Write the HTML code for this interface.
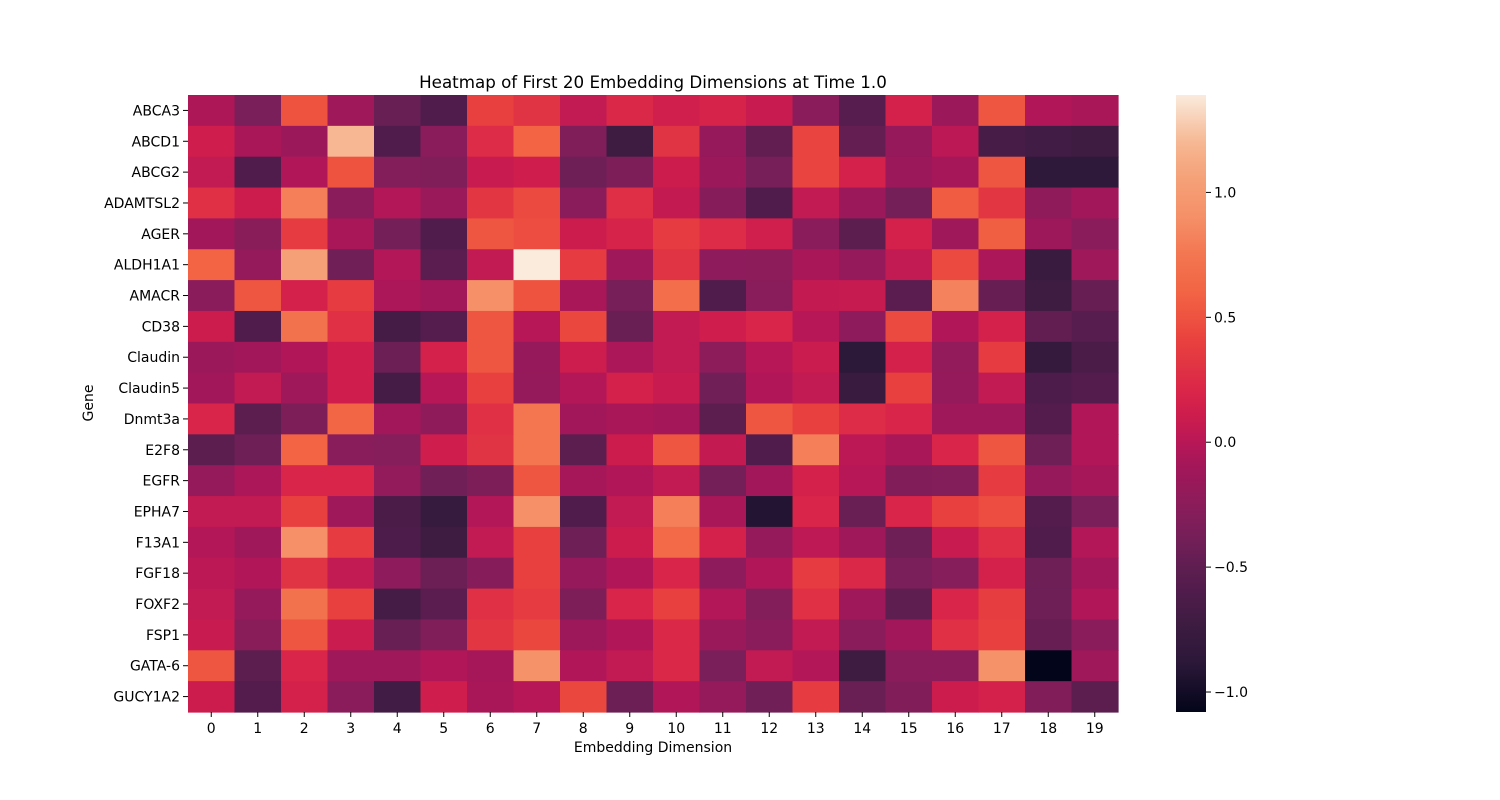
<!DOCTYPE html>
<html><head><meta charset="utf-8"><style>
html,body{margin:0;padding:0;background:#fff;}
svg{display:block;font-family:"DejaVu Sans","Liberation Sans",sans-serif;}
</style></head><body>
<svg id="chart" width="1500" height="800" viewBox="0 0 1500 800" xmlns="http://www.w3.org/2000/svg">
<rect width="1500" height="800" fill="#fff"/>
<text x="653" y="88" text-anchor="middle" font-size="16.7" fill="#000">Heatmap of First 20 Embedding Dimensions at Time 1.0</text>
<g id="cells"></g>
<g id="yaxis"></g>
<g id="xaxis"></g>
<text x="653" y="752" text-anchor="middle" font-size="14" fill="#000">Embedding Dimension</text>
<text x="93" y="403" text-anchor="middle" font-size="14" fill="#000" transform="rotate(-90 93 403)">Gene</text>
<defs><linearGradient id="cbgrad" x1="0" y1="1" x2="0" y2="0"></linearGradient></defs>
<rect x="1176" y="95" width="30" height="617" fill="url(#cbgrad)"/>
<g id="cbaxis"></g>
</svg>
<script>
const genes = ["ABCA3","ABCD1","ABCG2","ADAMTSL2","AGER","ALDH1A1","AMACR","CD38","Claudin","Claudin5","Dnmt3a","E2F8","EGFR","EPHA7","F13A1","FGF18","FOXF2","FSP1","GATA-6","GUCY1A2"];
const dims = ["0","1","2","3","4","5","6","7","8","9","10","11","12","13","14","15","16","17","18","19"];
const values = [
[-0.05,-0.35,0.5,-0.12,-0.45,-0.6,0.4,0.3,0.05,0.22,0.13,0.18,0.08,-0.25,-0.55,0.15,-0.15,0.52,-0.03,-0.07],
[0.12,-0.07,-0.15,1.2,-0.6,-0.25,0.25,0.6,-0.32,-0.72,0.3,-0.18,-0.48,0.42,-0.47,-0.18,0.02,-0.66,-0.7,-0.72],
[0.05,-0.6,-0.03,0.5,-0.3,-0.32,0.08,0.12,-0.42,-0.33,0.1,-0.15,-0.37,0.42,0.15,-0.15,-0.08,0.52,-0.85,-0.85],
[0.28,0.1,0.8,-0.25,-0.02,-0.16,0.32,0.45,-0.25,0.27,0.06,-0.28,-0.6,0.05,-0.15,-0.38,0.55,0.32,-0.22,-0.1],
[-0.1,-0.27,0.36,-0.07,-0.38,-0.6,0.52,0.47,0.1,0.18,0.37,0.25,0.13,-0.25,-0.52,0.15,-0.13,0.57,-0.14,-0.25],
[0.6,-0.19,1.05,-0.4,-0.02,-0.53,0.05,1.39,0.36,-0.12,0.3,-0.23,-0.24,-0.07,-0.19,0.05,0.45,-0.06,-0.77,-0.12],
[-0.25,0.52,0.15,0.37,-0.06,-0.1,0.9,0.5,-0.07,-0.37,0.68,-0.6,-0.26,0.06,0.07,-0.53,0.82,-0.46,-0.72,-0.46],
[0.1,-0.6,0.72,0.28,-0.67,-0.57,0.52,0.0,0.44,-0.44,0.05,0.12,0.2,0.0,-0.23,0.45,-0.03,0.16,-0.48,-0.55],
[-0.15,-0.1,-0.03,0.12,-0.43,0.16,0.52,-0.18,0.11,-0.06,0.05,-0.24,0.0,0.09,-0.88,0.16,-0.2,0.36,-0.8,-0.63],
[-0.1,0.05,-0.12,0.12,-0.67,0.0,0.4,-0.19,-0.02,0.15,0.08,-0.4,-0.03,0.05,-0.77,0.4,-0.19,0.05,-0.62,-0.58],
[0.2,-0.52,-0.33,0.62,-0.1,-0.22,0.28,0.75,-0.1,-0.07,-0.09,-0.52,0.52,0.4,0.25,0.2,-0.12,-0.12,-0.58,-0.03],
[-0.52,-0.42,0.6,-0.26,-0.29,0.12,0.3,0.75,-0.52,0.1,0.52,0.06,-0.6,0.8,0.02,-0.07,0.2,0.52,-0.42,-0.03],
[-0.19,-0.06,0.2,0.2,-0.2,-0.4,-0.33,0.52,-0.08,-0.03,0.05,-0.38,-0.1,0.15,0.0,-0.31,-0.3,0.37,-0.18,-0.08],
[0.05,0.05,0.4,-0.12,-0.63,-0.78,-0.02,0.9,-0.6,0.05,0.8,-0.07,-0.92,0.2,-0.44,0.2,0.4,0.47,-0.58,-0.35],
[-0.02,-0.12,0.9,0.37,-0.62,-0.72,0.05,0.4,-0.42,0.1,0.65,0.15,-0.19,0.03,-0.13,-0.42,0.08,0.27,-0.6,-0.02],
[0.02,-0.03,0.3,0.05,-0.23,-0.43,-0.28,0.4,-0.18,-0.03,0.2,-0.23,-0.03,0.37,0.22,-0.35,-0.29,0.15,-0.42,-0.1],
[0.05,-0.19,0.72,0.4,-0.67,-0.53,0.28,0.36,-0.33,0.2,0.4,-0.02,-0.3,0.28,-0.12,-0.5,0.2,0.38,-0.42,-0.03],
[0.08,-0.27,0.52,0.09,-0.45,-0.32,0.32,0.44,-0.14,-0.03,0.22,-0.16,-0.25,0.05,-0.25,-0.1,0.28,0.4,-0.46,-0.25],
[0.52,-0.52,0.2,-0.12,-0.12,-0.03,-0.08,0.92,-0.03,0.05,0.22,-0.35,0.05,-0.02,-0.72,-0.25,-0.25,0.92,-1.08,-0.12],
[0.1,-0.58,0.15,-0.25,-0.7,0.12,-0.07,0.0,0.44,-0.43,-0.03,-0.19,-0.4,0.37,-0.44,-0.31,0.1,0.15,-0.31,-0.52]
];
const cbTicks = [1.0,0.5,0.0,-0.5,-1.0];
const cbTickLabels = ["1.0","0.5","0.0","\u22120.5","\u22121.0"];
const vmin = -1.08, vmax = 1.39;

const stops = [[-1.08,"#03051a"],[-0.88,"#2c1839"],[-0.72,"#3e1c42"],[-0.6,"#501c4b"],[-0.5,"#5f1e50"],[-0.4,"#711f57"],[-0.3,"#831e5a"],[-0.2,"#931a5b"],[-0.1,"#a21759"],[0,"#b81757"],[0.1,"#cc1c4e"],[0.2,"#d92549"],[0.3,"#e03344"],[0.4,"#e8403f"],[0.5,"#ee5340"],[0.6,"#f26444"],[0.75,"#f37651"],[0.9,"#f59068"],[1.05,"#f5a077"],[1.2,"#f6b792"],[1.39,"#faebdd"]];
function hex2rgb(h){return [1,3,5].map(i=>parseInt(h.substr(i,2),16));}
function cmap(v){
  if(v<=stops[0][0])return stops[0][1];
  for(let i=1;i<stops.length;i++){
    if(v<=stops[i][0]){
      const a=stops[i-1],b=stops[i];const t=(v-a[0])/(b[0]-a[0]);
      const ca=hex2rgb(a[1]),cb=hex2rgb(b[1]);
      return "rgb("+ca.map((c,k)=>Math.round(c+(cb[k]-c)*t)).join(",")+")";
    }
  }
  return stops[stops.length-1][1];
}
const NS="http://www.w3.org/2000/svg";
const X0=188,X1=1118,Y0=95,Y1=712;
const cw=(X1-X0)/dims.length, ch=(Y1-Y0)/genes.length;
const xPos=j=>X0+j*cw, yPos=i=>Y0+i*ch;
const cbY=v=>Y1-(v-vmin)/(vmax-vmin)*(Y1-Y0);
function mk(tag,attrs,parent){const e=document.createElementNS(NS,tag);for(const k in attrs)e.setAttribute(k,attrs[k]);parent.appendChild(e);return e;}
const cells=document.getElementById('cells');
values.forEach((row,i)=>row.forEach((v,j)=>{
  const r=mk('rect',{x:xPos(j),y:yPos(i),width:cw+0.6,height:ch+0.6,fill:cmap(v)},cells);
  
  
}));
const ya=document.getElementById('yaxis');
genes.forEach((g,i)=>{
  const y=yPos(i)+ch/2;
  const l=mk('line',{x1:X0-5,x2:X0,y1:y,y2:y,stroke:'#000','stroke-width':1},ya);
  
  
  const t=mk('text',{x:X0-8,y:y+5,'text-anchor':'end','font-size':14,fill:'#000'},ya);
  t.textContent=g;
  
  
});
const xa=document.getElementById('xaxis');
dims.forEach((d,j)=>{
  const x=xPos(j)+cw/2;
  const l=mk('line',{x1:x,x2:x,y1:Y1,y2:Y1+5,stroke:'#000','stroke-width':1},xa);
  
  
  const t=mk('text',{x:x,y:Y1+21,'text-anchor':'middle','font-size':14,fill:'#000'},xa);
  t.textContent=d;
  
  
});
const grad=document.getElementById('cbgrad');
for(let k=0;k<=60;k++){
  const v=vmin+(vmax-vmin)*k/60;
  mk('stop',{offset:(k/60*100)+'%','stop-color':cmap(v)},grad);
}
const cba=document.getElementById('cbaxis');
cbTicks.forEach((v,k)=>{
  const y=cbY(v);
  const l=mk('line',{x1:1206,x2:1211,y1:y,y2:y,stroke:'#000','stroke-width':1},cba);
  
  
  const t=mk('text',{x:1214,y:y+5,'font-size':14,fill:'#000'},cba);
  t.textContent=cbTickLabels[k];
  
  
});
</script>
</body></html>
